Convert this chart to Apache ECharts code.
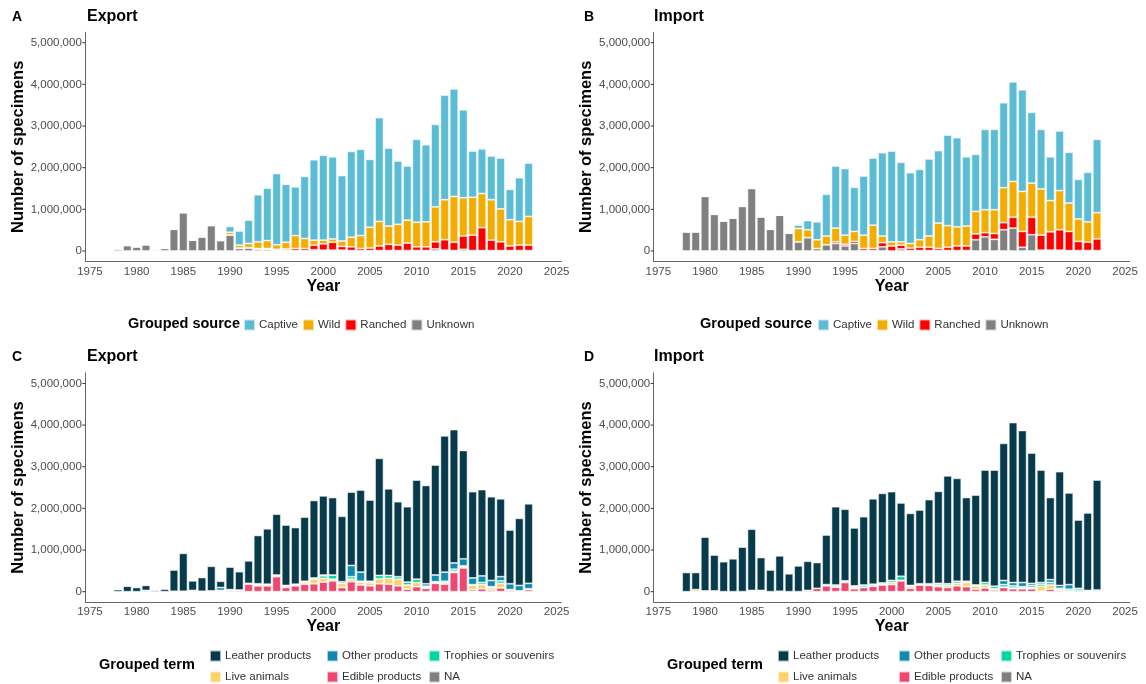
<!DOCTYPE html>
<html>
<head>
<meta charset="utf-8">
<title>Crocodilian trade</title>
<script src="https://cdn.jsdelivr.net/npm/echarts@6/dist/echarts.min.js"></script>
<style>
  html, body { margin: 0; padding: 0; background: #fff; }
  #main { width: 1146px; height: 684px; }
</style>
</head>
<body>
<div id="main"></div>
<script>
// values are in millions of specimens, one per year 1978-2022
var dataYears = [1978, 1979, 1980, 1981, 1982, 1983, 1984, 1985, 1986, 1987, 1988, 1989,
  1990, 1991, 1992, 1993, 1994, 1995, 1996, 1997, 1998, 1999,
  2000, 2001, 2002, 2003, 2004, 2005, 2006, 2007, 2008, 2009,
  2010, 2011, 2012, 2013, 2014, 2015, 2016, 2017, 2018, 2019,
  2020, 2021, 2022];
var tickYears = [1975, 1980, 1985, 1990, 1995, 2000, 2005, 2010, 2015, 2020, 2025];

// A - export by source
var expUnknown = [0.05, 0.13, 0.10, 0.15, 0.03, 0.06, 0.52, 0.92, 0.26, 0.34, 0.61, 0.25,
  0.38, 0.06, 0.07, 0.04, 0.04, 0.02, 0.02, 0.01, 0.01, 0.03,
  0.02, 0.02, 0.02, 0.01, 0.01, 0.01, 0.01, 0.01, 0.01, 0.01,
  0.01, 0.01, 0.05, 0.02, 0.01, 0.04, 0.01, 0.01, 0.01, 0.01,
  0.01, 0.01, 0.01];
var expRanched = [0, 0, 0, 0, 0, 0, 0, 0, 0, 0, 0, 0,
  0.01, 0.01, 0.01, 0.02, 0.02, 0.02, 0.03, 0.05, 0.05, 0.11,
  0.15, 0.19, 0.09, 0.09, 0.05, 0.06, 0.11, 0.15, 0.13, 0.18,
  0.09, 0.09, 0.17, 0.25, 0.20, 0.32, 0.37, 0.55, 0.25, 0.21,
  0.11, 0.13, 0.13];
var expWild = [0, 0, 0, 0, 0, 0, 0, 0, 0, 0, 0, 0,
  0.06, 0.07, 0.10, 0.16, 0.19, 0.11, 0.16, 0.31, 0.24, 0.12,
  0.09, 0.08, 0.13, 0.23, 0.31, 0.50, 0.59, 0.44, 0.50, 0.55,
  0.59, 0.60, 0.84, 0.96, 1.10, 0.92, 0.91, 0.82, 0.97, 0.79,
  0.63, 0.57, 0.69];
var expCaptive = [0, 0, 0, 0, 0, 0, 0, 0, 0, 0, 0, 0,
  0.14, 0.34, 0.56, 1.13, 1.26, 1.71, 1.39, 1.17, 1.49, 1.93,
  2.04, 1.97, 1.57, 2.06, 2.07, 1.63, 2.49, 1.87, 1.52, 1.30,
  1.99, 1.85, 1.98, 2.51, 2.58, 2.11, 1.11, 1.07, 1.05, 1.22,
  0.73, 1.05, 1.28];

// B - import by source
var impUnknown = [0.46, 0.46, 1.31, 0.88, 0.72, 0.79, 1.07, 1.50, 0.82, 0.52, 0.86, 0.43,
  0.22, 0.32, 0.06, 0.15, 0.18, 0.12, 0.18, 0.01, 0.01, 0.10,
  0.00, 0.05, 0.01, 0.01, 0.01, 0.01, 0.01, 0.01, 0.01, 0.27,
  0.34, 0.28, 0.51, 0.55, 0.09, 0.39, 0.02, 0.02, 0.02, 0.01,
  0.01, 0.01, 0.01];
var impRanched = [0, 0, 0, 0, 0, 0, 0, 0, 0, 0, 0, 0,
  0, 0, 0, 0, 0.04, 0.04, 0.05, 0.05, 0.05, 0.10,
  0.12, 0.09, 0.06, 0.08, 0.08, 0.05, 0.08, 0.11, 0.11, 0.14,
  0.10, 0.14, 0.17, 0.26, 0.38, 0.42, 0.36, 0.44, 0.49, 0.46,
  0.22, 0.20, 0.28];
var impWild = [0, 0, 0, 0, 0, 0, 0, 0, 0, 0, 0, 0,
  0.32, 0.19, 0.21, 0.21, 0.33, 0.22, 0.24, 0.32, 0.56, 0.16,
  0.10, 0.08, 0.11, 0.18, 0.27, 0.61, 0.52, 0.46, 0.48, 0.54,
  0.55, 0.57, 0.84, 0.86, 0.96, 0.82, 1.11, 0.75, 0.94, 0.68,
  0.54, 0.49, 0.63];
var impCaptive = [0, 0, 0, 0, 0, 0, 0, 0, 0, 0, 0, 0,
  0.08, 0.22, 0.43, 1.00, 1.49, 1.60, 1.06, 1.42, 1.61, 2.00,
  2.18, 1.91, 1.70, 1.69, 1.85, 1.74, 2.17, 2.14, 1.66, 1.37,
  1.93, 1.93, 2.04, 2.39, 2.44, 1.70, 1.43, 1.05, 1.43, 1.22,
  0.95, 1.19, 1.76];

// C - export by term
var expNA = [0, 0, 0, 0, 0, 0, 0, 0, 0, 0, 0, 0,
  0, 0, 0, 0, 0, 0, 0, 0, 0, 0,
  0, 0, 0, 0, 0, 0, 0, 0, 0, 0,
  0, 0, 0, 0, 0, 0, 0.01, 0, 0, 0,
  0, 0, 0];
var expEdible = [0, 0, 0, 0.03, 0, 0, 0, 0, 0, 0, 0, 0.02,
  0.03, 0.03, 0.18, 0.14, 0.14, 0.36, 0.10, 0.14, 0.18, 0.19,
  0.23, 0.26, 0.10, 0.24, 0.16, 0.14, 0.19, 0.18, 0.14, 0.06,
  0.12, 0.08, 0.20, 0.18, 0.46, 0.57, 0.04, 0.07, 0.04, 0.09,
  0.04, 0.01, 0.05];
var expLive = [0, 0, 0, 0, 0, 0, 0.01, 0.01, 0.03, 0.01, 0.02, 0.01,
  0.01, 0.01, 0.02, 0.03, 0.03, 0.03, 0.04, 0.02, 0.04, 0.11,
  0.09, 0.04, 0.10, 0.06, 0.07, 0.07, 0.12, 0.14, 0.16, 0.10,
  0.10, 0.03, 0.02, 0.04, 0.03, 0.04, 0.10, 0.10, 0.06, 0.11,
  0, 0, 0];
var expTrophies = [0, 0, 0, 0, 0, 0, 0, 0, 0, 0, 0, 0,
  0, 0, 0, 0.02, 0.01, 0.01, 0.01, 0.02, 0.03, 0.03,
  0.06, 0.10, 0.04, 0.06, 0.02, 0.03, 0.08, 0.07, 0.06, 0.07,
  0.08, 0.02, 0.02, 0.03, 0.05, 0.01, 0.02, 0.05, 0.02, 0.06,
  0.01, 0.01, 0.02];
var expOther = [0, 0, 0, 0, 0, 0, 0, 0, 0, 0, 0, 0.07,
  0.01, 0, 0, 0, 0, 0, 0, 0, 0, 0,
  0.02, 0, 0, 0.27, 0.22, 0.01, 0, 0, 0, 0,
  0, 0.06, 0.16, 0.22, 0.15, 0.17, 0.16, 0.16, 0.15, 0.10,
  0.14, 0.13, 0.13];
var expLeather = [0.05, 0.13, 0.10, 0.12, 0.03, 0.06, 0.51, 0.91, 0.23, 0.33, 0.59, 0.15,
  0.54, 0.44, 0.54, 1.16, 1.33, 1.46, 1.45, 1.36, 1.54, 1.86,
  1.90, 1.86, 1.57, 1.76, 1.97, 1.95, 2.81, 2.08, 1.80, 1.81,
  2.38, 2.36, 2.64, 3.27, 3.20, 2.60, 2.07, 2.07, 2.01, 1.87,
  1.29, 1.61, 1.91];

// D - import by term
var impNA = [0, 0, 0, 0, 0, 0, 0, 0, 0, 0, 0, 0,
  0, 0, 0, 0, 0, 0, 0, 0, 0, 0,
  0, 0, 0, 0, 0, 0, 0, 0, 0, 0,
  0, 0, 0, 0, 0, 0, 0, 0, 0, 0,
  0, 0, 0];
var impEdible = [0, 0, 0, 0, 0, 0, 0, 0, 0, 0, 0, 0,
  0, 0.03, 0.08, 0.14, 0.11, 0.22, 0.07, 0.10, 0.13, 0.16,
  0.17, 0.26, 0.08, 0.16, 0.15, 0.12, 0.10, 0.14, 0.12, 0.06,
  0.09, 0.04, 0.10, 0.07, 0.07, 0.07, 0.01, 0.06, 0.03, 0.02,
  0, 0, 0];
var impLive = [0, 0.05, 0.02, 0.02, 0, 0, 0, 0.01, 0.03, 0, 0.01, 0,
  0, 0, 0, 0.02, 0.01, 0.04, 0.04, 0.01, 0.01, 0.02,
  0.05, 0.01, 0.04, 0.01, 0.01, 0.04, 0.05, 0.06, 0.10, 0.08,
  0.07, 0.03, 0.01, 0.02, 0.02, 0.03, 0.12, 0.10, 0.02, 0,
  0, 0, 0];
var impTrophies = [0, 0, 0, 0, 0, 0, 0, 0.01, 0, 0, 0, 0,
  0, 0, 0, 0.01, 0.04, 0, 0.03, 0.05, 0.04, 0.03,
  0.05, 0.10, 0.03, 0.02, 0.03, 0.04, 0.04, 0.05, 0.03, 0.02,
  0.06, 0.06, 0.06, 0.05, 0.03, 0.05, 0.05, 0.06, 0.03, 0.04,
  0.04, 0.01, 0.01];
var impOther = [0, 0, 0, 0, 0, 0, 0, 0.01, 0, 0, 0, 0,
  0, 0, 0, 0, 0, 0, 0, 0, 0, 0,
  0, 0, 0, 0, 0, 0, 0, 0, 0, 0,
  0, 0, 0.10, 0.08, 0.10, 0.05, 0.04, 0.07, 0.07, 0.11,
  0.04, 0.02, 0.03];
var impLeather = [0.46, 0.41, 1.29, 0.86, 0.72, 0.79, 1.07, 1.47, 0.79, 0.52, 0.85, 0.43,
  0.62, 0.70, 0.62, 1.19, 1.88, 1.72, 1.39, 1.64, 2.05, 2.15,
  2.13, 1.76, 1.73, 1.77, 2.02, 2.21, 2.59, 2.47, 2.01, 2.16,
  2.70, 2.79, 3.29, 3.84, 3.65, 3.13, 2.70, 1.97, 2.73, 2.20,
  1.64, 1.86, 2.64];

var sourceNames = ['Captive', 'Wild', 'Ranched', 'Unknown'];
var termNames = ['Leather products', 'Other products', 'Trophies or souvenirs', 'Live animals', 'Edible products', 'NA'];
var colors = {
  'Captive': '#5BBCD6', 'Wild': '#F2AD00', 'Ranched': '#FF0000', 'Unknown': '#808080',
  'Leather products': '#073B4C', 'Other products': '#118AB2', 'Trophies or souvenirs': '#06D6A0',
  'Live animals': '#FFD166', 'Edible products': '#EF476F', 'NA': '#808080'
};

var FONT = '"Liberation Sans", Arial, Helvetica, sans-serif';

// axis runs 1975..2025 as categories, bars only where there is data
var axisYears = [];
for (var y = tickYears[0]; y <= tickYears[tickYears.length - 1]; y++) axisYears.push(String(y));

function pad(arr) {
  var out = [];
  for (var i = 0; i < axisYears.length; i++) {
    var k = dataYears.indexOf(Number(axisYears[i]));
    out.push(k < 0 ? null : arr[k]);
  }
  return out;
}

function fmtNum(n) {
  return String(n).replace(/\B(?=(\d{3})+(?!\d))/g, ',');
}

function isTick(index, value) {
  return tickYears.indexOf(Number(value)) >= 0;
}

var grids = [
  { left: 85.3, top: 32.3, width: 476, height: 229.1 },
  { left: 653.7, top: 32.3, width: 476, height: 229.1 },
  { left: 85.3, top: 373.0, width: 476, height: 229.1 },
  { left: 653.7, top: 373.0, width: 476, height: 229.1 }
];

var xAxes = [], yAxes = [];
for (var g = 0; g < 4; g++) {
  xAxes.push({
    type: 'category', gridIndex: g, data: axisYears,
    name: 'Year', nameLocation: 'middle', nameGap: 16,
    nameTextStyle: { fontFamily: FONT, fontSize: 16, fontWeight: 'bold', color: '#000' },
    axisLine: { onZero: false, lineStyle: { color: '#666', width: 1 } },
    axisTick: { alignWithLabel: true, interval: isTick, length: 3.5, lineStyle: { color: '#333' } },
    axisLabel: { interval: isTick, margin: 4, fontFamily: FONT, fontSize: 11.5, color: '#4d4d4d' },
    splitLine: { show: false }
  });
  yAxes.push({
    type: 'value', gridIndex: g, min: -0.25, max: 5.25, interval: 0.25,
    name: 'Number of specimens', nameLocation: 'middle', nameGap: 58,
    nameTextStyle: { fontFamily: FONT, fontSize: 16.5, fontWeight: 'bold', color: '#000' },
    axisLine: { show: true, lineStyle: { color: '#666', width: 1 } },
    axisTick: { show: false },
    splitLine: { show: false },
    axisLabel: {
      margin: 0,
      formatter: function(v) {
        if (v < 0 || Math.abs(v - Math.round(v)) > 1e-6) return '';
        return '{l|' + fmtNum(Math.round(v) * 1000000) + '}{t|}';
      },
      rich: {
        l: { fontFamily: FONT, fontSize: 11.5, color: '#4d4d4d', padding: [0, 0.5, 0, 0] },
        t: { width: 3, height: 1, backgroundColor: '#333', verticalAlign: 'middle' }
      }
    }
  });
}

function bar(name, arr, g) {
  return {
    name: name, type: 'bar', stack: 'p' + g, xAxisIndex: g, yAxisIndex: g,
    data: pad(arr), barWidth: '90%',
    itemStyle: { color: colors[name], borderColor: 'rgba(255,255,255,0.65)', borderWidth: 0.8 },
    emphasis: { disabled: true }
  };
}

// stacked bottom to top
var series = [
  bar('Unknown', expUnknown, 0), bar('Ranched', expRanched, 0), bar('Wild', expWild, 0), bar('Captive', expCaptive, 0),
  bar('Unknown', impUnknown, 1), bar('Ranched', impRanched, 1), bar('Wild', impWild, 1), bar('Captive', impCaptive, 1),
  bar('NA', expNA, 2), bar('Edible products', expEdible, 2), bar('Live animals', expLive, 2),
  bar('Trophies or souvenirs', expTrophies, 2), bar('Other products', expOther, 2), bar('Leather products', expLeather, 2),
  bar('NA', impNA, 3), bar('Edible products', impEdible, 3), bar('Live animals', impLive, 3),
  bar('Trophies or souvenirs', impTrophies, 3), bar('Other products', impOther, 3), bar('Leather products', impLeather, 3)
];

function label(text, left, top, size) {
  return {
    text: text, left: left, top: top, padding: 0,
    textStyle: { fontFamily: FONT, fontSize: size, fontWeight: 'bold', color: '#000' }
  };
}

var titles = [
  label('A', 12, 10, 14), label('Export', 87, 9, 16),
  label('B', 584, 10, 14), label('Import', 654, 9, 16),
  label('C', 12, 350, 14), label('Export', 87, 349, 16),
  label('D', 584, 350, 14), label('Import', 654, 349, 16),
  label('Grouped source', 128, 316, 14.5), label('Grouped source', 700, 316, 14.5),
  label('Grouped term', 99, 657, 14.5), label('Grouped term', 667, 657, 14.5)
];

function legend(names, left, top, orient) {
  return {
    data: names, left: left, top: top, orient: orient || 'horizontal', padding: 0,
    icon: 'rect', itemWidth: 11, itemHeight: 11, itemGap: orient ? 8 : 4,
    selectedMode: false,
    textStyle: { fontFamily: FONT, fontSize: 11.5, color: '#333', padding: [0, 0, 0, -1] }
  };
}

var legends = [
  legend(sourceNames, 243, 318.5),
  legend(sourceNames, 817, 318.5),
  legend(['Leather products', 'Live animals'], 209, 649.5, 'vertical'),
  legend(['Other products', 'Edible products'], 326, 649.5, 'vertical'),
  legend(['Trophies or souvenirs', 'NA'], 428, 649.5, 'vertical'),
  legend(['Leather products', 'Live animals'], 777, 649.5, 'vertical'),
  legend(['Other products', 'Edible products'], 898, 649.5, 'vertical'),
  legend(['Trophies or souvenirs', 'NA'], 1000, 649.5, 'vertical')
];

var myChart = echarts.init(document.getElementById('main'), null, { renderer: 'canvas' });
myChart.setOption({
  backgroundColor: '#fff',
  animation: false,
  title: titles,
  legend: legends,
  grid: grids,
  xAxis: xAxes,
  yAxis: yAxes,
  series: series
});
</script>
</body>
</html>
